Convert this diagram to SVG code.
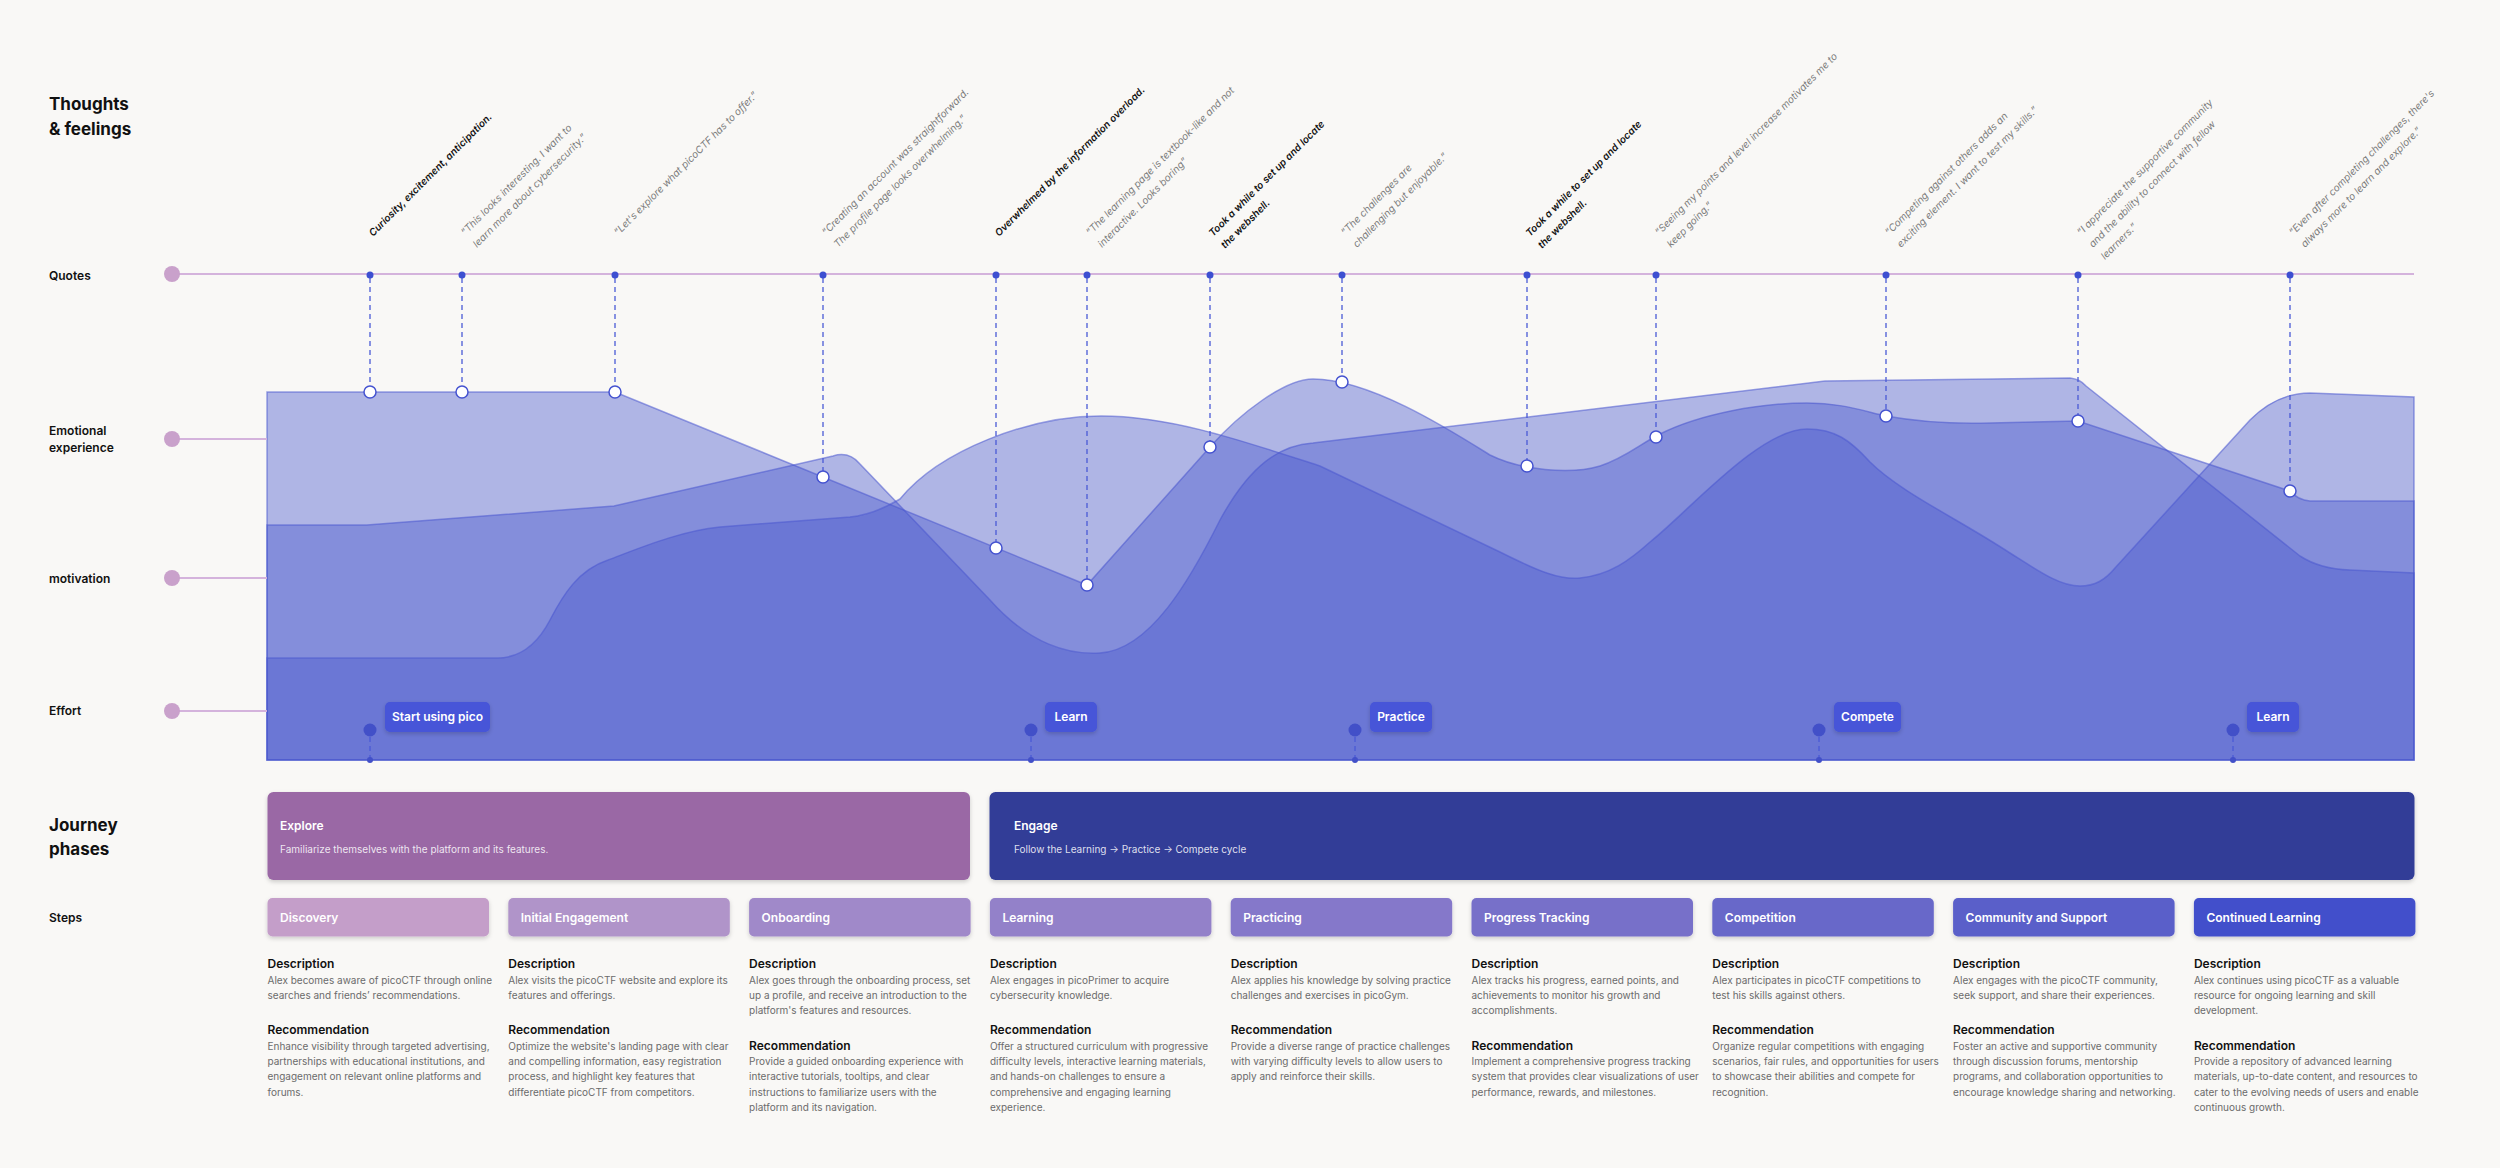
<svg xmlns="http://www.w3.org/2000/svg" width="2500" height="1168" viewBox="0 0 2500 1168">
<defs>
<style>
text{font-family:Inter,"Liberation Sans","Noto Sans",sans-serif}
.big{font-size:17px;font-weight:700;fill:#111}
.lbl{font-size:12px;font-weight:600;fill:#111}
.q{font-size:10px;font-style:italic;fill:#7c7c7c}
.qb{font-size:10px;font-style:italic;font-weight:600;fill:#111}
.stp{font-size:12px;font-weight:600;fill:#fff}
.h{font-size:12px;font-weight:600;fill:#111}
.b{font-size:10px;fill:#6b6b6b}
.ph{font-size:12px;font-weight:600;fill:#fff}
.phd{font-size:10px;fill:#fff;fill-opacity:0.85}
.tag{font-size:12px;font-weight:600;fill:#fff;text-anchor:middle}
.layer{fill:#4958cd;fill-opacity:0.42;stroke:#4a58cf;stroke-opacity:0.55;stroke-width:1.5}
.rowline{stroke:#d4b3dc;stroke-width:2}
.rowdot{fill:#c9a1cb}
.dash{stroke:#4a5ad6;stroke-width:1.3;stroke-dasharray:5 4}
.qdot{fill:#3d4fd1}
.ec{fill:#fff;stroke:#4553d0;stroke-width:1.5}
.mdot{fill:#4250c8}
.tagbox{fill:#4654d8}
</style>
<filter id="sh" x="-10%" y="-30%" width="120%" height="170%">
<feDropShadow dx="0" dy="2" stdDeviation="2" flood-color="#000" flood-opacity="0.18"/>
</filter>
</defs>
<rect width="2500" height="1168" fill="#f9f8f6"/>

<g id="row-labels">
<text class="big" x="49" y="110">Thoughts</text>
<text class="big" x="49" y="135">&amp; feelings</text>
<text class="lbl" x="49" y="280">Quotes</text>
<text class="lbl" x="49" y="435">Emotional</text>
<text class="lbl" x="49" y="452">experience</text>
<text class="lbl" x="49" y="583">motivation</text>
<text class="lbl" x="49" y="715">Effort</text>
<text class="big" x="49" y="831">Journey</text>
<text class="big" x="49" y="855">phases</text>
<text class="lbl" x="49" y="922">Steps</text>
</g>

<g id="chart">
<path class="layer" d="M267,760 L267,392 L615,392 L1087,585 L1210,447 C1240,413 1285,379 1313,379 C1370,379 1450,430 1490,455 C1520,470 1570,475 1600,466 C1625,458 1640,444 1660,434 C1700,414 1760,403 1807,403 C1840,403 1860,410 1886,416 C1920,422 1960,424 1990,423 L2078,421 L2290,491 Q2298,500 2310,501 L2414,501 L2414,760 Z"/>
<path class="layer" d="M267,760 L267,525 L367,525 L614,506 L833,456 Q849,451 860,464 L990,600 C1030,645 1070,655 1100,653 C1150,650 1190,580 1220,520 C1250,465 1280,445 1313,443 L1825,381 L2070,378 Q2080,379 2086,386 L2300,556 Q2320,569 2350,570 L2414,573 L2414,760 Z"/>
<path class="layer" d="M267,760 L267,658 L497,658 C522,658 538,643 550,620 C563,595 578,570 608,560 C640,548 680,531 720,527 L850,517 C870,515 885,508 900,499 C940,450 1030,416 1101,416 C1170,416 1240,440 1320,466 L1500,552 C1540,572 1560,580 1580,578 C1610,575 1630,560 1650,542 C1690,510 1760,429 1807,429 C1835,429 1850,440 1870,462 C1900,492 1960,520 2010,553 C2040,572 2060,586 2080,586 C2095,586 2105,580 2115,568 L2250,420 C2270,400 2290,393 2310,393 L2414,397 L2414,760 Z"/>
</g>

<g id="connectors">
<line class="rowline" x1="172" y1="274" x2="2414" y2="274"/>
<line class="rowline" x1="172" y1="439" x2="267" y2="439"/>
<line class="rowline" x1="172" y1="578" x2="267" y2="578"/>
<line class="rowline" x1="172" y1="711" x2="267" y2="711"/>
<line class="dash" x1="370" y1="278" x2="370" y2="386"/>
<line class="dash" x1="462" y1="278" x2="462" y2="386"/>
<line class="dash" x1="615" y1="278" x2="615" y2="386"/>
<line class="dash" x1="823" y1="278" x2="823" y2="471"/>
<line class="dash" x1="996" y1="278" x2="996" y2="542"/>
<line class="dash" x1="1087" y1="278" x2="1087" y2="579"/>
<line class="dash" x1="1210" y1="278" x2="1210" y2="441"/>
<line class="dash" x1="1342" y1="278" x2="1342" y2="376"/>
<line class="dash" x1="1527" y1="278" x2="1527" y2="460"/>
<line class="dash" x1="1656" y1="278" x2="1656" y2="431"/>
<line class="dash" x1="1886" y1="278" x2="1886" y2="410"/>
<line class="dash" x1="2078" y1="278" x2="2078" y2="415"/>
<line class="dash" x1="2290" y1="278" x2="2290" y2="485"/>
<line class="dash" x1="370" y1="737" x2="370" y2="758"/>
<line class="dash" x1="1031" y1="737" x2="1031" y2="758"/>
<line class="dash" x1="1355" y1="737" x2="1355" y2="758"/>
<line class="dash" x1="1819" y1="737" x2="1819" y2="758"/>
<line class="dash" x1="2233" y1="737" x2="2233" y2="758"/>
</g>

<g id="row-dots">
<circle class="rowdot" cx="172" cy="274" r="8"/>
<circle class="rowdot" cx="172" cy="439" r="8"/>
<circle class="rowdot" cx="172" cy="578" r="8"/>
<circle class="rowdot" cx="172" cy="711" r="8"/>
</g>

<g id="quote-dots">
<circle class="qdot" cx="370" cy="275" r="3.5"/>
<circle class="qdot" cx="462" cy="275" r="3.5"/>
<circle class="qdot" cx="615" cy="275" r="3.5"/>
<circle class="qdot" cx="823" cy="275" r="3.5"/>
<circle class="qdot" cx="996" cy="275" r="3.5"/>
<circle class="qdot" cx="1087" cy="275" r="3.5"/>
<circle class="qdot" cx="1210" cy="275" r="3.5"/>
<circle class="qdot" cx="1342" cy="275" r="3.5"/>
<circle class="qdot" cx="1527" cy="275" r="3.5"/>
<circle class="qdot" cx="1656" cy="275" r="3.5"/>
<circle class="qdot" cx="1886" cy="275" r="3.5"/>
<circle class="qdot" cx="2078" cy="275" r="3.5"/>
<circle class="qdot" cx="2290" cy="275" r="3.5"/>
</g>

<g id="emotion-points">
<circle class="ec" cx="370" cy="392" r="6"/>
<circle class="ec" cx="462" cy="392" r="6"/>
<circle class="ec" cx="615" cy="392" r="6"/>
<circle class="ec" cx="823" cy="477" r="6"/>
<circle class="ec" cx="996" cy="548" r="6"/>
<circle class="ec" cx="1087" cy="585" r="6"/>
<circle class="ec" cx="1210" cy="447" r="6"/>
<circle class="ec" cx="1342" cy="382" r="6"/>
<circle class="ec" cx="1527" cy="466" r="6"/>
<circle class="ec" cx="1656" cy="437" r="6"/>
<circle class="ec" cx="1886" cy="416" r="6"/>
<circle class="ec" cx="2078" cy="421" r="6"/>
<circle class="ec" cx="2290" cy="491" r="6"/>
</g>

<g id="quotes">
<text class="qb" transform="translate(373,237) rotate(-45)">Curiosity, excitement, anticipation.</text>
<text class="q" transform="translate(465,236) rotate(-45)"><tspan x="0" y="0">“This looks interesting. I want to</tspan><tspan x="0" y="17">learn more about cybersecurity.”</tspan></text>
<text class="q" transform="translate(618,236) rotate(-45)">“Let's explore what picoCTF has to offer.”</text>
<text class="q" transform="translate(826,236) rotate(-45)"><tspan x="0" y="0">“Creating an account was straightforward.</tspan><tspan x="0" y="17">The profile page looks overwhelming.”</tspan></text>
<text class="qb" transform="translate(999,237) rotate(-45)">Overwhelmed by the information overload.</text>
<text class="q" transform="translate(1090,236) rotate(-45)"><tspan x="0" y="0">“The learning page is textbook-like and not</tspan><tspan x="0" y="17">interactive. Looks boring”</tspan></text>
<text class="qb" transform="translate(1213,237) rotate(-45)"><tspan x="0" y="0">Took a while to set up and locate</tspan><tspan x="0" y="17">the webshell.</tspan></text>
<text class="q" transform="translate(1345,236) rotate(-45)"><tspan x="0" y="0">“The challenges are</tspan><tspan x="0" y="17">challenging but enjoyable.”</tspan></text>
<text class="qb" transform="translate(1530,237) rotate(-45)"><tspan x="0" y="0">Took a while to set up and locate</tspan><tspan x="0" y="17">the webshell.</tspan></text>
<text class="q" transform="translate(1659,236) rotate(-45)"><tspan x="0" y="0">“Seeing my points and level increase motivates me to</tspan><tspan x="0" y="17">keep going.”</tspan></text>
<text class="q" transform="translate(1889,236) rotate(-45)"><tspan x="0" y="0">“Competing against others adds an</tspan><tspan x="0" y="17">exciting element. I want to test my skills.”</tspan></text>
<text class="q" transform="translate(2081,236) rotate(-45)"><tspan x="0" y="0">“I appreciate the supportive community</tspan><tspan x="0" y="17">and the ability to connect with fellow</tspan><tspan x="0" y="34">learners.”</tspan></text>
<text class="q" transform="translate(2293,236) rotate(-45)"><tspan x="0" y="0">“Even after completing challenges, there's</tspan><tspan x="0" y="17">always more to learn and explore.”</tspan></text>
</g>

<g id="marker-start">
<circle class="mdot" cx="370" cy="730" r="6.5"/><circle class="mdot" cx="370" cy="760" r="3"/>
<rect class="tagbox" x="385" y="702" width="105" height="30" rx="5" filter="url(#sh)"/>
<text class="tag" x="437.5" y="721.3">Start using pico</text>
</g>
<g id="marker-learn1">
<circle class="mdot" cx="1031" cy="730" r="6.5"/><circle class="mdot" cx="1031" cy="760" r="3"/>
<rect class="tagbox" x="1045" y="702" width="52" height="30" rx="5" filter="url(#sh)"/>
<text class="tag" x="1071" y="721.3">Learn</text>
</g>
<g id="marker-practice">
<circle class="mdot" cx="1355" cy="730" r="6.5"/><circle class="mdot" cx="1355" cy="760" r="3"/>
<rect class="tagbox" x="1370" y="702" width="62" height="30" rx="5" filter="url(#sh)"/>
<text class="tag" x="1401" y="721.3">Practice</text>
</g>
<g id="marker-compete">
<circle class="mdot" cx="1819" cy="730" r="6.5"/><circle class="mdot" cx="1819" cy="760" r="3"/>
<rect class="tagbox" x="1834" y="702" width="67" height="30" rx="5" filter="url(#sh)"/>
<text class="tag" x="1867.5" y="721.3">Compete</text>
</g>
<g id="marker-learn2">
<circle class="mdot" cx="2233" cy="730" r="6.5"/><circle class="mdot" cx="2233" cy="760" r="3"/>
<rect class="tagbox" x="2247" y="702" width="52" height="30" rx="5" filter="url(#sh)"/>
<text class="tag" x="2273" y="721.3">Learn</text>
</g>

<g id="phase-explore">
<rect x="267.5" y="792" width="702.5" height="88" rx="6" fill="#9a67a5" filter="url(#sh)"/>
<text class="ph" x="280" y="829.5">Explore</text>
<text class="phd" x="280" y="852.5">Familiarize themselves with the platform and its features.</text>
</g>
<g id="phase-engage">
<rect x="989.5" y="792" width="1425" height="88" rx="6" fill="#323c97" filter="url(#sh)"/>
<text class="ph" x="1014" y="829.5">Engage</text>
<text class="phd" x="1014" y="852.5">Follow the Learning → Practice → Compete cycle</text>
</g>

<g id="step-discovery">
<rect x="267.5" y="898" width="221.5" height="38.5" rx="5" fill="#c49ec9" filter="url(#sh)"/>
<text class="stp" x="280" y="922">Discovery</text>
<text class="h" x="267.5" y="968.3">Description</text>
<text class="b"><tspan x="267.5" y="983.5">Alex becomes aware of picoCTF through online</tspan><tspan x="267.5" y="998.8">searches and friends’ recommendations.</tspan></text>
<text class="h" x="267.5" y="1034.3">Recommendation</text>
<text class="b"><tspan x="267.5" y="1049.8">Enhance visibility through targeted advertising,</tspan><tspan x="267.5" y="1065.1">partnerships with educational institutions, and</tspan><tspan x="267.5" y="1080.4">engagement on relevant online platforms and</tspan><tspan x="267.5" y="1095.7">forums.</tspan></text>
</g>
<g id="step-initial">
<rect x="508.3" y="898" width="221.5" height="38.5" rx="5" fill="#b094c9" filter="url(#sh)"/>
<text class="stp" x="520.8" y="922">Initial Engagement</text>
<text class="h" x="508.3" y="968.3">Description</text>
<text class="b"><tspan x="508.3" y="983.5">Alex visits the picoCTF website and explore its</tspan><tspan x="508.3" y="998.8">features and offerings.</tspan></text>
<text class="h" x="508.3" y="1034.3">Recommendation</text>
<text class="b"><tspan x="508.3" y="1049.8">Optimize the website's landing page with clear</tspan><tspan x="508.3" y="1065.1">and compelling information, easy registration</tspan><tspan x="508.3" y="1080.4">process, and highlight key features that</tspan><tspan x="508.3" y="1095.7">differentiate picoCTF from competitors.</tspan></text>
</g>
<g id="step-onboarding">
<rect x="749.1" y="898" width="221.5" height="38.5" rx="5" fill="#a089c9" filter="url(#sh)"/>
<text class="stp" x="761.6" y="922">Onboarding</text>
<text class="h" x="749.1" y="968.3">Description</text>
<text class="b"><tspan x="749.1" y="983.5">Alex goes through the onboarding process, set</tspan><tspan x="749.1" y="998.8">up a profile, and receive an introduction to the</tspan><tspan x="749.1" y="1014.1">platform's features and resources.</tspan></text>
<text class="h" x="749.1" y="1049.6">Recommendation</text>
<text class="b"><tspan x="749.1" y="1065.1">Provide a guided onboarding experience with</tspan><tspan x="749.1" y="1080.4">interactive tutorials, tooltips, and clear</tspan><tspan x="749.1" y="1095.7">instructions to familiarize users with the</tspan><tspan x="749.1" y="1111">platform and its navigation.</tspan></text>
</g>
<g id="step-learning">
<rect x="989.9" y="898" width="221.5" height="38.5" rx="5" fill="#9381c9" filter="url(#sh)"/>
<text class="stp" x="1002.4" y="922">Learning</text>
<text class="h" x="989.9" y="968.3">Description</text>
<text class="b"><tspan x="989.9" y="983.5">Alex engages in picoPrimer to acquire</tspan><tspan x="989.9" y="998.8">cybersecurity knowledge.</tspan></text>
<text class="h" x="989.9" y="1034.3">Recommendation</text>
<text class="b"><tspan x="989.9" y="1049.8">Offer a structured curriculum with progressive</tspan><tspan x="989.9" y="1065.1">difficulty levels, interactive learning materials,</tspan><tspan x="989.9" y="1080.4">and hands-on challenges to ensure a</tspan><tspan x="989.9" y="1095.7">comprehensive and engaging learning</tspan><tspan x="989.9" y="1111">experience.</tspan></text>
</g>
<g id="step-practicing">
<rect x="1230.7" y="898" width="221.5" height="38.5" rx="5" fill="#8578ca" filter="url(#sh)"/>
<text class="stp" x="1243.2" y="922">Practicing</text>
<text class="h" x="1230.7" y="968.3">Description</text>
<text class="b"><tspan x="1230.7" y="983.5">Alex applies his knowledge by solving practice</tspan><tspan x="1230.7" y="998.8">challenges and exercises in picoGym.</tspan></text>
<text class="h" x="1230.7" y="1034.3">Recommendation</text>
<text class="b"><tspan x="1230.7" y="1049.8">Provide a diverse range of practice challenges</tspan><tspan x="1230.7" y="1065.1">with varying difficulty levels to allow users to</tspan><tspan x="1230.7" y="1080.4">apply and reinforce their skills.</tspan></text>
</g>
<g id="step-progress">
<rect x="1471.5" y="898" width="221.5" height="38.5" rx="5" fill="#776fc9" filter="url(#sh)"/>
<text class="stp" x="1484" y="922">Progress Tracking</text>
<text class="h" x="1471.5" y="968.3">Description</text>
<text class="b"><tspan x="1471.5" y="983.5">Alex tracks his progress, earned points, and</tspan><tspan x="1471.5" y="998.8">achievements to monitor his growth and</tspan><tspan x="1471.5" y="1014.1">accomplishments.</tspan></text>
<text class="h" x="1471.5" y="1049.6">Recommendation</text>
<text class="b"><tspan x="1471.5" y="1065.1">Implement a comprehensive progress tracking</tspan><tspan x="1471.5" y="1080.4">system that provides clear visualizations of user</tspan><tspan x="1471.5" y="1095.7">performance, rewards, and milestones.</tspan></text>
</g>
<g id="step-competition">
<rect x="1712.3" y="898" width="221.5" height="38.5" rx="5" fill="#6868c9" filter="url(#sh)"/>
<text class="stp" x="1724.8" y="922">Competition</text>
<text class="h" x="1712.3" y="968.3">Description</text>
<text class="b"><tspan x="1712.3" y="983.5">Alex participates in picoCTF competitions to</tspan><tspan x="1712.3" y="998.8">test his skills against others.</tspan></text>
<text class="h" x="1712.3" y="1034.3">Recommendation</text>
<text class="b"><tspan x="1712.3" y="1049.8">Organize regular competitions with engaging</tspan><tspan x="1712.3" y="1065.1">scenarios, fair rules, and opportunities for users</tspan><tspan x="1712.3" y="1080.4">to showcase their abilities and compete for</tspan><tspan x="1712.3" y="1095.7">recognition.</tspan></text>
</g>
<g id="step-community">
<rect x="1953.1" y="898" width="221.5" height="38.5" rx="5" fill="#5a5ec9" filter="url(#sh)"/>
<text class="stp" x="1965.6" y="922">Community and Support</text>
<text class="h" x="1953.1" y="968.3">Description</text>
<text class="b"><tspan x="1953.1" y="983.5">Alex engages with the picoCTF community,</tspan><tspan x="1953.1" y="998.8">seek support, and share their experiences.</tspan></text>
<text class="h" x="1953.1" y="1034.3">Recommendation</text>
<text class="b"><tspan x="1953.1" y="1049.8">Foster an active and supportive community</tspan><tspan x="1953.1" y="1065.1">through discussion forums, mentorship</tspan><tspan x="1953.1" y="1080.4">programs, and collaboration opportunities to</tspan><tspan x="1953.1" y="1095.7">encourage knowledge sharing and networking.</tspan></text>
</g>
<g id="step-continued">
<rect x="2193.9" y="898" width="221.5" height="38.5" rx="5" fill="#4250cb" filter="url(#sh)"/>
<text class="stp" x="2206.4" y="922">Continued Learning</text>
<text class="h" x="2193.9" y="968.3">Description</text>
<text class="b"><tspan x="2193.9" y="983.5">Alex continues using picoCTF as a valuable</tspan><tspan x="2193.9" y="998.8">resource for ongoing learning and skill</tspan><tspan x="2193.9" y="1014.1">development.</tspan></text>
<text class="h" x="2193.9" y="1049.6">Recommendation</text>
<text class="b"><tspan x="2193.9" y="1065.1">Provide a repository of advanced learning</tspan><tspan x="2193.9" y="1080.4">materials, up-to-date content, and resources to</tspan><tspan x="2193.9" y="1095.7">cater to the evolving needs of users and enable</tspan><tspan x="2193.9" y="1111">continuous growth.</tspan></text>
</g>
</svg>
